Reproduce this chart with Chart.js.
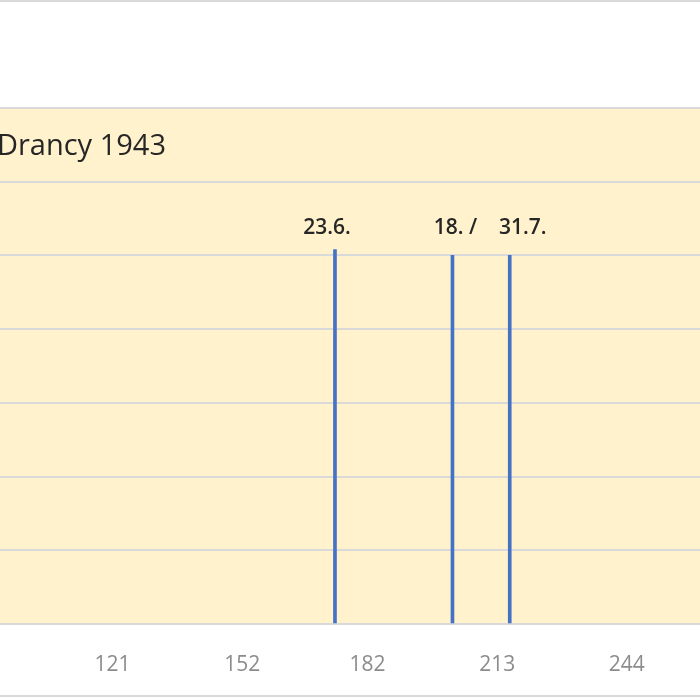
<!DOCTYPE html>
<html><head><meta charset="utf-8">
<script src="https://cdn.jsdelivr.net/npm/chart.js@4.4.0/dist/chart.umd.min.js"></script>
<style>
html,body{margin:0;padding:0;width:700px;height:700px;overflow:hidden;background:#fff;}
#frame{position:absolute;left:0;top:0;width:700px;height:697px;border-top:2px solid #d9d9d9;border-bottom:2px solid #d9d9d9;box-sizing:border-box;}
#c{position:absolute;left:-150px;top:0;width:950px;height:700px;}
</style></head><body>
<div id="frame"></div>
<canvas id="c" width="950" height="700"></canvas>
<script>
const titleText = "Drancy 1943";
const dayOfYear = [174.2, 202.3, 216];
const heights = [5.08, 5.0, 5.0];
const barLabels = ["23.6.", "18. /", "31.7."];
const xTicks = [121, 152, 182, 213, 244];

const bgPlugin = {
  id: 'bg',
  beforeDraw(chart) {
    const {ctx, chartArea: a} = chart;
    ctx.save(); ctx.fillStyle = '#FFF2CC';
    ctx.fillRect(a.left, a.top, a.right - a.left, a.bottom - a.top);
    ctx.restore();
  },
  afterDatasetsDraw(chart) {
    const {ctx} = chart;
    ctx.save();
    ctx.fillStyle = '#262626';
    ctx.font = '29px "Open Sans", Calibri, sans-serif';
    ctx.textBaseline = 'middle';
    ctx.textAlign = 'right';
    ctx.fillText(titleText, 166 + 150, 147);
    ctx.font = '600 21px "Open Sans", sans-serif';
    ctx.textAlign = 'center';
    const offs = [-8, 3, 13];
    chart.getDatasetMeta(0).data.forEach((el, i) => {
      ctx.fillText(barLabels[i], el.x + offs[i], 228);
    });
    ctx.restore();
  }
};

new Chart(document.getElementById('c'), {
  type: 'bar',
  data: { datasets: [{
    data: dayOfYear.map((d, i) => ({x: d, y: heights[i]})),
    backgroundColor: '#4472C4', barThickness: 3
  }]},
  options: {
    responsive: false, devicePixelRatio: 1, animation: false,
    layout: { padding: { left: 54, right: 65, top: 108, bottom: 0 } },
    plugins: { legend: { display: false }, tooltip: { enabled: false } },
    scales: {
      x: {
        type: 'linear', min: 91, max: 250,
        grid: { display: false },
        border: { color: '#d9d9d9', width: 2 },
        afterBuildTicks(s) { s.ticks = xTicks.map(v => ({value: v})); },
        afterFit(s) { s.height = 76; s.paddingLeft = 0; s.paddingRight = 0; },
        ticks: { color: '#8c8c8c', font: { size: 21, family: '"Open Sans", sans-serif' }, padding: 20, maxRotation: 0, autoSkip: false }
      },
      y: {
        display: true, min: 0, max: 7,
        afterFit(s) { s.width = 0; },
        ticks: { display: false, stepSize: 1 },
        border: { display: false },
        grid: { color: '#d9d9d9', lineWidth: 2, drawTicks: false }
      }
    }
  },
  plugins: [bgPlugin]
});
</script></body></html>
